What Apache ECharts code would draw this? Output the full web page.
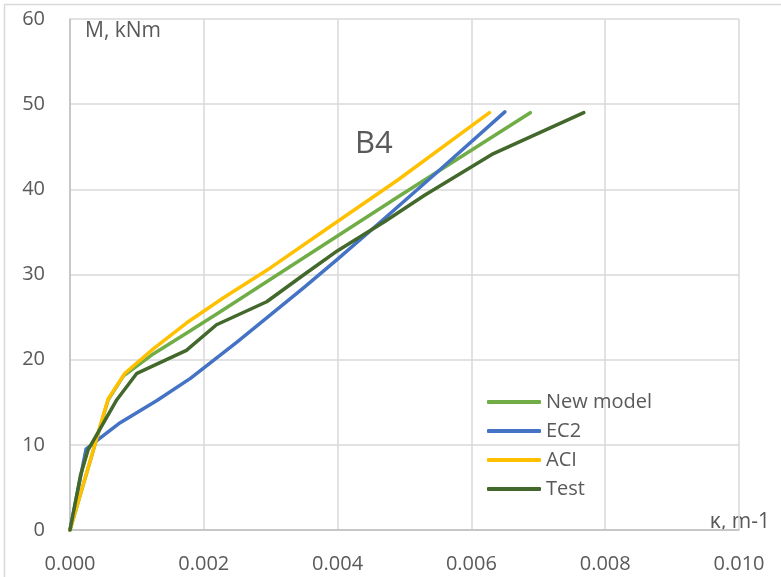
<!DOCTYPE html>
<html>
<head>
<meta charset="utf-8">
<script src="https://cdn.jsdelivr.net/npm/echarts@6/dist/echarts.min.js"></script>
<style>html,body{margin:0;padding:0;background:#fff}#c{width:781px;height:577px}</style>
</head>
<body>
<div id="c"></div>
<script>
const seriesNames = ['New model', 'EC2', 'ACI', 'Test'];
const newModel = [[0,0],[0.00057,15.3],[0.0008,18.1],[0.00125,20.7],[0.00174,23.1],[0.00224,25.6],[0.0035,32.0],[0.0049,39.1],[0.00688,49.0]];
const ec2 = [[0,0],[0.00024,9.5],[0.0004,10.5],[0.00075,12.6],[0.0013,15.2],[0.0018,17.8],[0.0025,22.1],[0.0035,28.5],[0.004,31.8],[0.0045,35.2],[0.0055,42.1],[0.0065,49.1]];
const aci = [[0,0],[0.00057,15.4],[0.00082,18.4],[0.00125,21.3],[0.00174,24.3],[0.0023,27.3],[0.003,30.8],[0.0039,35.7],[0.0049,41.1],[0.00627,49.0]];
const test = [[0,0],[0.00016,6.5],[0.00027,9.4],[0.0007,15.3],[0.001,18.4],[0.00174,21.1],[0.00219,24.1],[0.00294,26.8],[0.0035,30.0],[0.004,32.8],[0.0047,36.2],[0.0053,39.3],[0.00633,44.2],[0.00768,49.0]];
const xTicks = [0, 0.002, 0.004, 0.006, 0.008, 0.010];
const yTicks = [0, 10, 20, 30, 40, 50, 60];
const colors = ['#70AD47', '#4472C4', '#FFC000', '#43682B'];
const dataSets = [newModel, ec2, aci, test];

const FONT = '"Open Sans", "Noto Sans", sans-serif';
const chart = echarts.init(document.getElementById('c'), null, {renderer: 'canvas'});
chart.setOption({
  animation: false,
  backgroundColor: '#fff',
  grid: {left: 70, top: 19, right: 42, bottom: 47, containLabel: false},
  xAxis: {
    type: 'value', min: xTicks[0], max: xTicks[xTicks.length-1], interval: 0.002,
    axisLine: {show: true, lineStyle: {color: '#bfbfbf', width: 1.5}},
    axisTick: {show: false},
    splitLine: {show: true, lineStyle: {color: '#d9d9d9', width: 1.5}},
    axisLabel: {color: '#595959', fontSize: 20, fontFamily: FONT, margin: 24,
      formatter: v => v.toFixed(3)}
  },
  yAxis: {
    type: 'value', min: yTicks[0], max: yTicks[yTicks.length-1], interval: 10,
    axisLine: {show: true, lineStyle: {color: '#bfbfbf', width: 1.5}},
    axisTick: {show: false},
    splitLine: {show: true, lineStyle: {color: '#d9d9d9', width: 1.5}},
    axisLabel: {color: '#595959', fontSize: 20, fontFamily: FONT, margin: 25}
  },
  legend: {
    orient: 'vertical', left: 482, top: 387,
    itemWidth: 54, itemHeight: 4, itemGap: 9,
    textStyle: {color: '#595959', fontSize: 20, fontFamily: FONT, lineHeight: 20},
    data: seriesNames.map(n => ({name: n, icon: 'roundRect'}))
  },
  series: seriesNames.map((n, i) => ({
    name: n, type: 'line', data: dataSets[i], showSymbol: false, symbol: 'none',
    lineStyle: {color: colors[i], width: 3.5, cap: 'round', join: 'round'},
    itemStyle: {color: colors[i]}, z: 2 + i
  })),
  graphic: [
    {type: 'rect', shape: {x: 4.5, y: 4.5, width: 800, height: 600}, style: {fill: 'none', stroke: '#d9d9d9', lineWidth: 1.5}, silent: true},
    {type: 'text', left: 85, top: 21, style: {text: 'M, kNm', fill: '#595959', font: '21px ' + FONT}},
    {type: 'text', left: 355, top: 129, style: {text: 'B4', fill: '#595959', font: '31px ' + FONT}},
    {type: 'text', right: 11, top: 512, style: {text: 'κ, m-1', fill: '#595959', font: '21px ' + FONT}}
  ]
});
</script>
</body>
</html>
